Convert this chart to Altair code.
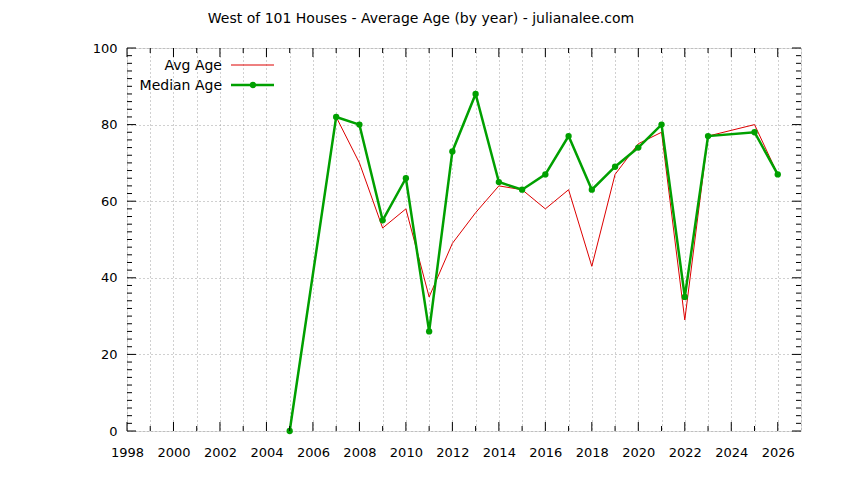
import altair as alt
import pandas as pd

# ---- data ----
years = [2005, 2007, 2008, 2009, 2010, 2011, 2012, 2013, 2014, 2015,
         2016, 2017, 2018, 2019, 2020, 2021, 2022, 2023, 2025, 2026]
avg_age = [0, 82, 70, 53, 58, 35, 49, 57, 64, 63,
           58, 63, 43, 67, 75, 78, 29, 77, 80, 67]
median_age = [0, 82, 80, 55, 66, 26, 73, 88, 65, 63,
              67, 77, 63, 69, 74, 80, 35, 77, 78, 67]

x_major = [1998, 2000, 2002, 2004, 2006, 2008, 2010, 2012, 2014, 2016,
           2018, 2020, 2022, 2024, 2026]
x_minor = [1999, 2001, 2003, 2005, 2007, 2009, 2011, 2013, 2015, 2017,
           2019, 2021, 2023, 2025]
y_major = [0, 20, 40, 60, 80, 100]
y_minor = [v for v in range(0, 101, 2) if v % 20 != 0]

title_text = "West of 101 Houses - Average Age (by year) - julianalee.com"
legend_labels = ["Avg Age", "Median Age"]

W, H = 674, 383
FONT = "DejaVu Sans"
RED = "#dd0000"
GREEN = "#00a000"
GRID = "#a0a0a0"

df = pd.DataFrame({"year": years, "avg": avg_age, "median": median_age})

xscale = alt.Scale(domain=[1998, 2027], nice=False, zero=False)
yscale = alt.Scale(domain=[0, 100], nice=False)

xaxis = alt.Axis(
    title=None, values=sorted(x_major + x_minor + [2027]),
    labelExpr="datum.value % 2 == 0 ? datum.value : ''",
    grid=True, gridDash=[1, 3], gridColor=GRID, gridWidth=1,
    ticks=False, tickSize=0, domain=False,
    labelFont=FONT, labelFontSize=13, labelColor="#000", labelPadding=15,
    labelFlush=False, labelOverlap=False,
)
yaxis = alt.Axis(
    title=None, values=y_major,
    grid=True, gridDash=[1, 3], gridColor=GRID, gridWidth=1,
    ticks=False, tickSize=0, domain=False,
    labelFont=FONT, labelFontSize=13, labelColor="#000", labelPadding=10,
    labelFlush=False, labelOverlap=False,
)

base = alt.Chart(df)

avg_line = base.mark_line(color=RED, strokeWidth=1).encode(
    x=alt.X("year:Q", scale=xscale, axis=xaxis),
    y=alt.Y("avg:Q", scale=yscale, axis=yaxis),
)
med_line = base.mark_line(color=GREEN, strokeWidth=2.5).encode(
    x=alt.X("year:Q", scale=xscale, axis=xaxis),
    y=alt.Y("median:Q", scale=yscale, axis=yaxis),
)
med_pts = base.mark_point(color=GREEN, filled=True, size=40, opacity=1).encode(
    x=alt.X("year:Q", scale=xscale, axis=xaxis),
    y=alt.Y("median:Q", scale=yscale, axis=yaxis),
)

# ---- inward ticks (gnuplot style) ----
def xticks(vals, length):
    d = pd.DataFrame({"year": vals})
    bottom = alt.Chart(d).mark_rule(color="#000", strokeWidth=1).encode(
        x=alt.X("year:Q", scale=xscale, axis=xaxis),
        y=alt.value(H), y2=alt.value(H - length))
    top = alt.Chart(d).mark_rule(color="#000", strokeWidth=1).encode(
        x=alt.X("year:Q", scale=xscale, axis=xaxis),
        y=alt.value(0), y2=alt.value(length))
    return [bottom, top]

def yticks(vals, length):
    d = pd.DataFrame({"avg": vals})
    left = alt.Chart(d).mark_rule(color="#000", strokeWidth=1).encode(
        y=alt.Y("avg:Q", scale=yscale, axis=yaxis),
        x=alt.value(0), x2=alt.value(length))
    right = alt.Chart(d).mark_rule(color="#000", strokeWidth=1).encode(
        y=alt.Y("avg:Q", scale=yscale, axis=yaxis),
        x=alt.value(W), x2=alt.value(W - length))
    return [left, right]

tick_layers = xticks(x_major, 9) + xticks(x_minor, 5) + yticks(y_major, 9) + yticks(y_minor, 5)

# ---- title ----
title = alt.Chart(pd.DataFrame({"t": [title_text]})).mark_text(
    font=FONT, fontSize=14, color="#000", align="center", baseline="middle"
).encode(text="t:N", x=alt.value(294), y=alt.value(-29))

# ---- gnuplot-style key (text right, sample left) ----
leg1 = alt.Chart(pd.DataFrame({"t": [legend_labels[0]]})).mark_text(
    font=FONT, fontSize=14, color="#000", align="right", baseline="middle"
).encode(text="t:N", x=alt.value(95), y=alt.value(18))
leg2 = alt.Chart(pd.DataFrame({"t": [legend_labels[1]]})).mark_text(
    font=FONT, fontSize=14, color="#000", align="right", baseline="middle"
).encode(text="t:N", x=alt.value(95), y=alt.value(38))
leg1_line = alt.Chart(pd.DataFrame({"t": [legend_labels[0]]})).mark_rule(
    color=RED, strokeWidth=1
).encode(x=alt.value(104), x2=alt.value(147), y=alt.value(17))
leg2_line = alt.Chart(pd.DataFrame({"t": [legend_labels[1]]})).mark_rule(
    color=GREEN, strokeWidth=2.5
).encode(x=alt.value(104), x2=alt.value(147), y=alt.value(37))
leg2_pt = alt.Chart(pd.DataFrame({"t": [legend_labels[1]]})).mark_point(
    color=GREEN, filled=True, size=40, opacity=1
).encode(x=alt.value(126), y=alt.value(37))

chart = alt.layer(
    avg_line, med_line, med_pts, *tick_layers,
    title, leg1, leg2, leg1_line, leg2_line, leg2_pt,
).properties(
    width=W, height=H,
    autosize=alt.AutoSizeParams(type="none"),
    padding={"left": 119, "top": 40, "right": 35, "bottom": 41},
).configure_view(
    stroke="#000", strokeWidth=1
).configure(background="white")

chart.save("out.html", embed_options={"renderer": "svg", "actions": False})
